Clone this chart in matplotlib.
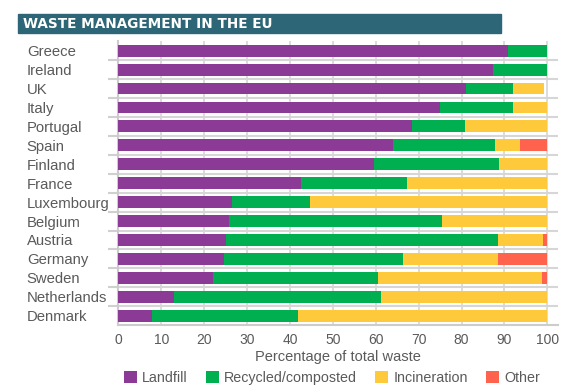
import matplotlib
matplotlib.use("Agg")
import matplotlib.pyplot as plt
from matplotlib.patches import Rectangle, Patch
import numpy as np

countries = ["Greece", "Ireland", "UK", "Italy", "Portugal", "Spain", "Finland", "France",
             "Luxembourg", "Belgium", "Austria", "Germany", "Sweden", "Netherlands", "Denmark"]
landfill = [90.8, 87.4, 81.0, 75.1, 68.4, 64.1, 59.5, 42.7, 26.5, 25.9, 25.1, 24.7, 22.1, 13.1, 7.9]
recycled = [9.2, 12.6, 10.9, 16.8, 12.3, 23.6, 29.2, 24.6, 18.3, 49.5, 63.3, 41.6, 38.5, 48.1, 33.9]
incineration = [0.0, 0.0, 7.4, 8.1, 19.3, 5.9, 11.3, 32.7, 55.2, 24.6, 10.5, 22.1, 38.1, 38.8, 58.2]
other = [0.0, 0.0, 0.0, 0.0, 0.0, 6.4, 0.0, 0.0, 0.0, 0.0, 1.1, 11.6, 1.3, 0.0, 0.0]
series_names = ["Landfill", "Recycled/composted", "Incineration", "Other"]
xticks = [0, 10, 20, 30, 40, 50, 60, 70, 80, 90, 100]
title = "WASTE MANAGEMENT IN THE EU"
xlabel = "Percentage of total waste"

colors = ["#8B3A96", "#00B050", "#FFC93C", "#FF634D"]
txt_color = "#5a5a5a"
plt.rcParams['font.family'] = ['Liberation Sans', 'DejaVu Sans']

W, H = 587, 387
PX = 72 / 100  # points per pixel
fig = plt.figure(figsize=(W / 100, H / 100), dpi=100)
ax = fig.add_axes([118.3 / W, 1 - 325.2 / H, (558 - 118.3) / W, (325.2 - 41.2) / H])

y = np.arange(len(countries))
left = np.zeros(len(countries))
for vals, col, name in zip([landfill, recycled, incineration, other], colors, series_names):
    v = np.array(vals)
    ax.barh(y, v, left=left, height=0.63, color=col, label=name, zorder=3)
    left += v

ax.set_xlim(0, (558 - 118.3) / 4.29)
ax.set_ylim(len(countries) - 0.5, -0.5)
ax.set_xticks(xticks)
ax.set_xticklabels([str(t) for t in xticks], color=txt_color, fontsize=10)
ax.tick_params(axis='x', length=0, pad=8 * PX)
ax.set_yticks(y)
ax.set_yticklabels(countries, color=txt_color, fontsize=10.7, ha='left')
ax.tick_params(axis='y', which='major', length=0, pad=91.5 * PX)
ax.set_yticks(np.arange(len(countries) - 1) + 0.5, minor=True)
ax.tick_params(axis='y', which='minor', length=10 * PX, color="#d0d0d0", width=1.5)
ax.grid(axis='x', which='major', color="#d6d6d6", lw=1.2, zorder=0)
ax.grid(axis='y', which='minor', color="#d6d6d6", lw=1.5, zorder=0)
for s in ['top', 'right']:
    ax.spines[s].set_visible(False)
for s in ['left', 'bottom']:
    ax.spines[s].set_color("#cccccc")
    ax.spines[s].set_linewidth(1.5)
ax.set_xlabel(xlabel, color=txt_color, fontsize=10.5, labelpad=2)

# title bar
fig.patches.append(Rectangle((18 / W, 1 - 33 / H), (501 - 18) / W, 19 / H,
                             transform=fig.transFigure, color="#2D6677", zorder=0))
fig.text(23 / W, 1 - 23.5 / H, title, color="white", fontsize=9.8, fontweight='bold',
         va='center', ha='left', family='DejaVu Sans')

handles = [Patch(facecolor=c, edgecolor='none') for c in colors]
fig.legend(handles, series_names, loc='center', bbox_to_anchor=(332 / W, 1 - 378 / H),
           ncol=4, frameon=False, fontsize=10.3, handlelength=0.9, handleheight=0.9,
           handletextpad=0.35, columnspacing=1.3, labelcolor=txt_color, borderaxespad=0)

fig.savefig("out.png", dpi=100)
